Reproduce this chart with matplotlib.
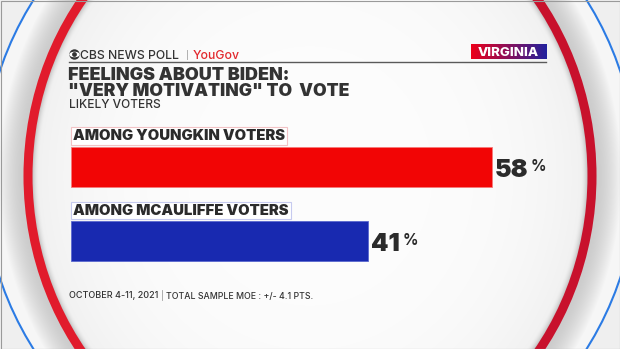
import numpy as np
import matplotlib
matplotlib.use("Agg")
import matplotlib.pyplot as plt
from matplotlib.patches import Arc, Circle, Ellipse, Rectangle

# chart data
groups = ["AMONG YOUNGKIN VOTERS", "AMONG MCAULIFFE VOTERS"]
values = [58, 41]
bar_colors = ["#f20505", "#1829b0"]
bar_edges = ["#f77a7a", "#5a68cf"]
box_edges = ["#f2c2c5", "#c6caef"]

title_lines = ["FEELINGS ABOUT BIDEN:", '"VERY MOTIVATING" TO  VOTE']
subtitle = "LIKELY VOTERS"
state = "VIRGINIA"
footer_date = "OCTOBER 4-11, 2021"
footer_moe = "TOTAL SAMPLE MOE : +/- 4.1 PTS."

FONT = "Inter"
TXT = "#2b2b2b"
W, H = 620, 349

fig = plt.figure(figsize=(6.2, 3.49), dpi=100)
bg = fig.add_axes([0, 0, 1, 1])
bg.set_xlim(0, W)
bg.set_ylim(H, 0)
bg.axis("off")

# background: lit dome with red ring
yy, xx = np.mgrid[0:H, 0:W] + 0.5
r = np.hypot((xx - 310) / 282, (yy - 176) / 299)
d = (r - 1) * 290
interior = 0.99 - 0.05 * r ** 4
val = np.full(r.shape, 0.955)
val = np.where(d < -12, interior, val)
t = np.clip((d + 12) / 7.5, 0, 1)
val = np.where((d >= -12) & (d < 0), interior * (1 - t ** 2) + 0.76 * t ** 2, val)
u = np.clip((d - 4.5) / 26, 0, 1)
val = np.where(d >= 0, 0.80 + 0.165 * u ** 1.5, val)
R = np.hypot(xx - 310, yy - 174.5)
val = np.where(R > 328, 0.94, val)
img = np.dstack([val, val, val])
bg.imshow(img, extent=(0, W, H, 0), interpolation="bilinear", zorder=0, aspect="auto")

bg.add_patch(Arc((310, 176), 564, 598, theta1=90, theta2=270, color="#e11b2c", lw=6.5, zorder=1))
bg.add_patch(Arc((310, 176), 564, 598, theta1=-90, theta2=90, color="#c8112c", lw=6.5, zorder=1))
bg.add_patch(Circle((310, 174.5), 327, fill=False, ec="#2b7be4", lw=1.5, zorder=1))
bg.add_patch(Rectangle((0.5, 0.5), W - 1, H - 1, fill=False, ec="#9a9a9a", lw=0.8, zorder=5))

# header: CBS eye + poll name
bg.add_patch(Circle((74.5, 54.5), 5.2, fc="#333333", ec="none", zorder=3))
bg.add_patch(Ellipse((74.5, 54.5), 10.4, 5.6, fc="white", ec="none", zorder=3))
bg.add_patch(Circle((74.5, 54.5), 2.4, fc="#333333", ec="none", zorder=3))
bg.text(80.5, 59, "CBS NEWS POLL", family=FONT, weight=500, fontsize=8.8,
        color="#333333", va="baseline", ha="left", zorder=3)
bg.plot([186.7, 186.7], [49.5, 59], color="#b0b0b0", lw=0.7, zorder=3)
bg.text(192.5, 59, "YouGov", family=FONT, weight=500, fontsize=8.8,
        color="#e2282d", va="baseline", ha="left", zorder=3)
bg.plot([69, 546], [61.8, 61.8], color="#5a5a5a", lw=1.0, zorder=3)

# state tag with red-blue gradient
grad = np.linspace(0, 1, 200)
c0 = np.array([0.93, 0.0, 0.10])
c1 = np.array([0.13, 0.13, 0.62])
tag = (c0[None, :] * (1 - grad[:, None]) + c1[None, :] * grad[:, None])[None, :, :]
bg.imshow(tag, extent=(470.5, 546.5, 59.5, 44.5), aspect="auto", zorder=3)
bg.text(508.5, 56.2, state, family=FONT, weight=800, fontsize=9.6,
        color="white", va="baseline", ha="center", zorder=4)

# title block
bg.text(68.5, 80, title_lines[0], family=FONT, weight=900, fontsize=12.9,
        color="#333333", va="baseline", ha="left", zorder=3)
bg.text(68.5, 96.5, title_lines[1], family=FONT, weight=900, fontsize=12.6,
        color="#333333", va="baseline", ha="left", zorder=3)
bg.text(69, 108.3, subtitle, family=FONT, weight=500, fontsize=8.6,
        color="#333333", va="baseline", ha="left", zorder=3)

# footer
bg.text(69, 298.5, footer_date, family=FONT, weight=500, fontsize=6.5,
        color="#333333", va="baseline", ha="left", zorder=3)
bg.plot([162, 162], [289.5, 300], color="#a0a0a0", lw=0.6, zorder=3)
bg.text(166, 298.5, footer_moe, family=FONT, weight=500, fontsize=6.3,
        color="#333333", va="baseline", ha="left", zorder=3)

# bars
ax = fig.add_axes([71 / W, 1 - 290 / H, (580 - 71) / W, 170 / H])
ax.set_xlim(0, 509 / 7.25)
ax.set_ylim(1 + (290 - 241) / 74.2, -(166.7 - 120) / 74.2)
ax.axis("off")
ax.patch.set_alpha(0)

ypos = np.arange(len(values))
ax.barh(ypos, values, height=0.54, color=bar_colors, edgecolor=bar_edges, linewidth=0.6)

for y, v, lab, be in zip(ypos, values, groups, box_edges):
    ax.annotate(lab, xy=(0, y - 0.41), xytext=(1.6, 0), textcoords="offset points",
                ha="left", va="center", family=FONT, weight=900, fontsize=10.7,
                color=TXT, bbox=dict(boxstyle="square,pad=0.13", fc="white", ec=be, lw=0.8))
    num = ax.annotate(f"{v}", xy=(v, y), xytext=(2.2, -7.2), textcoords="offset points",
                      ha="left", va="baseline", family=FONT, weight=900,
                      fontsize=18, color=TXT)
    ax.annotate("%", xy=(1, 1), xycoords=num, xytext=(1.5, 0), textcoords="offset points",
                ha="left", va="top", family=FONT, weight=700, fontsize=11, color=TXT)

fig.savefig("out.png", dpi=100)
